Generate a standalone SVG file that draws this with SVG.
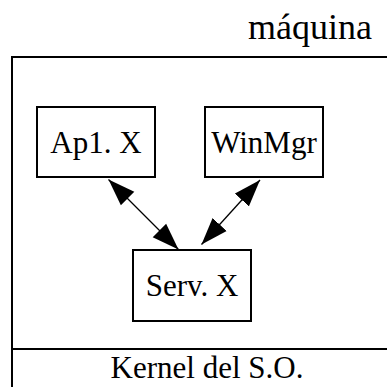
<svg xmlns="http://www.w3.org/2000/svg" width="387" height="387" viewBox="0 0 387 387">
<style>
.box{fill:#fff;stroke:#000;stroke-width:2}
.frame{fill:none;stroke:#000;stroke-width:2}
.lbl{font-family:"Liberation Serif","Times New Roman",serif;font-size:31px;fill:#000;text-anchor:middle}
.conn{stroke:#000;stroke-width:1.3;fill:none;marker-start:url(#ah);marker-end:url(#ah)}
</style>
<defs>
<marker id="ah" markerUnits="userSpaceOnUse" markerWidth="28" markerHeight="20" refX="27" refY="9.5" orient="auto-start-reverse" viewBox="0 0 28 19">
<path d="M0,0 L27,9.5 L0,19 z" fill="#000"/>
</marker>
</defs>
<rect width="387" height="387" fill="#fff"/>
<g id="maquina">
<path class="frame" d="M12,387 V57 H388"/>
<text x="310" y="39" class="lbl" style="font-size:36px">máquina</text>
</g>
<g id="kernel">
<path class="frame" d="M12,349 H388"/>
<text x="207" y="378" class="lbl">Kernel del S.O.</text>
</g>
<g id="connectors">
<line class="conn" x1="108.5" y1="179.5" x2="178.5" y2="249.5"/>
<line class="conn" x1="260" y1="180" x2="201.5" y2="244.5"/>
</g>
<g id="ap1">
<rect class="box" x="37" y="107" width="118" height="70"/>
<text x="96" y="153" class="lbl">Ap1. X</text>
</g>
<g id="winmgr">
<rect class="box" x="205" y="107" width="118" height="70"/>
<text x="264" y="153" class="lbl">WinMgr</text>
</g>
<g id="servx">
<rect class="box" x="133" y="250" width="118" height="71"/>
<text x="192" y="296" class="lbl">Serv. X</text>
</g>
</svg>
